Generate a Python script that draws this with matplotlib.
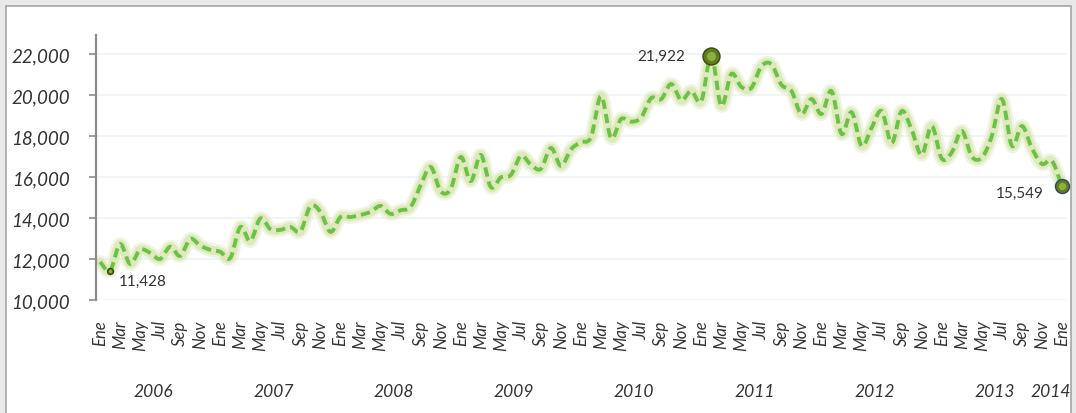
import numpy as np
import matplotlib
matplotlib.use("Agg")
import matplotlib.pyplot as plt
from matplotlib.patches import Rectangle
from matplotlib.ticker import FuncFormatter
import matplotlib.transforms as mtransforms

plt.rcParams['font.family'] = ['Lato', 'DejaVu Sans']

# ---------------- data ----------------
years = [2006, 2007, 2008, 2009, 2010, 2011, 2012, 2013, 2014]
tick_month_labels = ["Ene", "Mar", "May", "Jul", "Sep", "Nov"]

values_2006 = [11850, 11428, 12730, 11760, 12450, 12300, 12000, 12600, 12150, 12980, 12650, 12450]
values_2007 = [12350, 12050, 13560, 12880, 13980, 13460, 13420, 13560, 13350, 14580, 14300, 13320]
values_2008 = [14050, 14050, 14150, 14300, 14590, 14200, 14380, 14540, 15600, 16490, 15300, 15420]
values_2009 = [16980, 15800, 17080, 15510, 15980, 16100, 17030, 16600, 16400, 17420, 16540, 17350]
values_2010 = [17700, 17950, 19950, 17900, 18830, 18700, 18900, 19850, 19800, 20540, 19750, 20200]
values_2011 = [19700, 21922, 19470, 21030, 20400, 20350, 21400, 21500, 20500, 20200, 19070, 19810]
values_2012 = [19070, 20200, 18100, 19170, 17520, 18400, 19220, 17660, 19220, 18300, 17080, 18490]
values_2013 = [16900, 17200, 18250, 17000, 16950, 18000, 19810, 17520, 18490, 17400, 16640, 16780]
values_2014 = [15549]

values = (values_2006 + values_2007 + values_2008 + values_2009 + values_2010 +
          values_2011 + values_2012 + values_2013 + values_2014)
highlight_idx = [1, 61, 96]
y_ticks = [10000, 12000, 14000, 16000, 18000, 20000, 22000]

# ---------------- helpers ----------------
def smooth_curve(y, n=14):
    y = np.asarray(y, float)
    m = np.gradient(y)
    xs, ys = [], []
    t = np.linspace(0, 1, n, endpoint=False)
    h00 = 2 * t**3 - 3 * t**2 + 1
    h10 = t**3 - 2 * t**2 + t
    h01 = -2 * t**3 + 3 * t**2
    h11 = t**3 - t**2
    for i in range(len(y) - 1):
        ys.append(h00 * y[i] + h10 * m[i] + h01 * y[i + 1] + h11 * m[i + 1])
        xs.append(i + t)
    xs.append(np.array([len(y) - 1.0]))
    ys.append(np.array([y[-1]]))
    return np.concatenate(xs), np.concatenate(ys)

# ---------------- figure ----------------
W, H = 1076, 414
fig = plt.figure(figsize=(W / 100, H / 100), dpi=100)
fig.patch.set_facecolor('#e9e9e9')
bg = Rectangle((6 / W, -0.01), (1071 - 6) / W, 1 - 7 / H + 0.01,
               transform=fig.transFigure, facecolor='white',
               edgecolor='#a5a5a5', linewidth=1.2, zorder=-10)
fig.patches.append(bg)

ax = fig.add_axes([96 / W, 113 / H, (1067 - 96) / W, (301 - 36) / H])
ax.set_facecolor('none')
ax.set_zorder(1)

x = np.arange(len(values))
sx, sy = smooth_curve(values)

# glow
ax.plot(sx, sy, color='#e3ecc6', lw=10, alpha=0.5, solid_capstyle='round', zorder=2)
ax.plot(sx, sy, color='#d3e3a6', lw=6.5, alpha=0.6, solid_capstyle='round', zorder=2)
# dashed line
ax.plot(sx, sy, color='#6cc245', lw=2.8, dashes=(2.4, 1.3), zorder=3)

# highlighted markers
sizes = {1: 6, 61: 17, 96: 14}
for i in highlight_idx:
    s = sizes[i]
    edge = '#2f4a5a' if i == 96 else '#3a4a12'
    ax.plot(x[i], values[i], 'o', ms=s * 0.72, mfc='#5f7d1f', mec=edge, mew=1.0, zorder=5, clip_on=False)
    ax.plot(x[i], values[i], 'o', ms=s * 0.38, mfc='#9cbd4a', mec='none', alpha=0.8, zorder=6, clip_on=False)

ann_kw = dict(textcoords='offset points', fontsize=11, color='#333333', zorder=7)
ax.annotate(f"{values[1]:,}", (x[1], values[1]), xytext=(6, -7.5), ha='left', va='center', **ann_kw)
ax.annotate(f"{values[61]:,}", (x[61], values[61]), xytext=(-19, 0), ha='right', va='center', **ann_kw)
ax.annotate(f"{values[96]:,}", (x[96], values[96]), xytext=(-13.5, -4.5), ha='right', va='center', **ann_kw)

# axes
ax.set_ylim(10000, 22930)
ax.set_xlim(-0.4, 96.5)
ax.set_yticks(y_ticks)
ax.yaxis.set_major_formatter(FuncFormatter(lambda v, p: f"{int(v):,}"))
ax.grid(axis='y', color='#eef3f3', lw=1.2, zorder=0)
ax.set_axisbelow(True)
for sp in ['top', 'right', 'bottom']:
    ax.spines[sp].set_visible(False)
ax.spines['left'].set_color('#8c8c8c')
ax.spines['left'].set_linewidth(1.6)
ax.tick_params(axis='y', length=5, width=1.2, color='#8c8c8c', pad=14,
               labelsize=13.5, labelcolor='#333333')
for lab in ax.get_yticklabels():
    lab.set_fontstyle('italic')

xt = np.arange(0, len(values), 2)
xl = [tick_month_labels[(k // 2) % 6] for k in xt]
ax.set_xticks(xt)
ax.set_xticklabels(xl, rotation=90, fontsize=12, color='#333333', fontstyle='italic')
ax.tick_params(axis='x', length=0, pad=14)

trans = mtransforms.blended_transform_factory(ax.transData, fig.transFigure)
for j, yr in enumerate(years):
    xc = j * 12 + 5.3 if yr != 2014 else 94.9
    ax.text(xc, 1 - 392 / H, str(yr), transform=trans, ha='center', va='center',
            fontsize=12.5, fontstyle='italic', color='#333333')

fig.savefig('out.png', dpi=100)
